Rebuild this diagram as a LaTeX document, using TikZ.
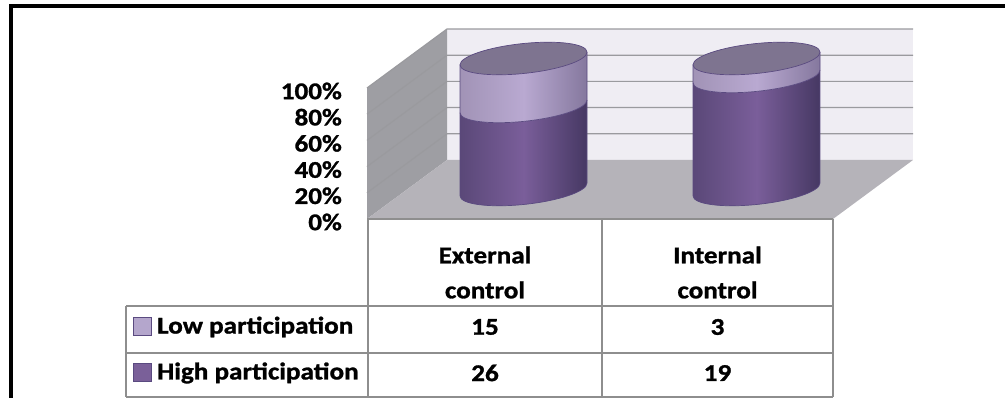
\documentclass[tikz,border=0pt]{standalone}
\usepackage{fontspec}
\setmainfont{Carlito}[BoldFeatures={FakeStretch=1.13, FakeBold=1.2}]
\usepackage{tikz}
\usetikzlibrary{positioning}

\definecolor{backwall}{HTML}{EFEDF3}
\definecolor{sidewall}{HTML}{9E9EA3}
\definecolor{floorgray}{HTML}{B5B3B9}
\definecolor{gridgray}{HTML}{9A9A9E}
\definecolor{tablegray}{HTML}{8E8E8E}
\definecolor{highleft}{HTML}{5A4878}
\definecolor{highmid}{HTML}{7A5E9A}
\definecolor{highright}{HTML}{463863}
\definecolor{lowleft}{HTML}{A193B6}
\definecolor{lowmid}{HTML}{B9A9D1}
\definecolor{lowright}{HTML}{85789E}
\definecolor{cyltop}{HTML}{7E7490}
\definecolor{cyledge}{HTML}{5A4A80}
\definecolor{keylow}{HTML}{B4A6CC}
\definecolor{keyhigh}{HTML}{7A6099}

\begin{document}
\begin{tikzpicture}[x=1pt,y=1pt]
                \tikzstyle{axislabel} = [font=\fontsize{24}{26}\selectfont\bfseries, inner sep=0pt, anchor=east]
                \tikzstyle{tabtext} = [font=\fontsize{24}{35}\selectfont\bfseries, inner sep=0pt, align=center]
                \tikzstyle{keybox} = [rectangle, minimum size=18pt, inner sep=0pt, draw=cyledge, line width=1pt]
                \tikzstyle{tableline} = [draw=tablegray, line width=1.5pt]
                \tikzstyle{gridline} = [draw=gridgray, line width=1.2pt]
                \tikzstyle{cylline} = [draw=cyledge, line width=0.7pt]
                \useasboundingbox (0,0) rectangle (1005,398);

                % outer frame
                \draw [line width=4pt] (10.5,-5) -- (10.5,391.5) -- (1012,391.5);

                % walls and floor
                \fill [backwall] (447,238) rectangle (913,369);
                \fill [sidewall] (367,179) -- (447,238) -- (447,369) -- (367,310) -- cycle;
                \fill [floorgray] (367,179) -- (447,238) -- (913,238) -- (833,179) -- cycle;
                \foreach \k in {1,...,5} {
                    \draw [gridline] (367,179+26.2*\k) -- (447,238+26.2*\k) -- (913,238+26.2*\k);
                }

                % cylinders: centre / split height
                \foreach \cx/\ys in {523.5/291.6, 756.5/321.6} {
                    \begin{scope}[shift={(\cx,0)}, yslant=0.1]
                        \shade [left color=highleft, right color=highright, middle color=highmid]
                            (-63.5,208.5) arc[start angle=180, end angle=360, x radius=63.5, y radius=15]
                            -- (63.5,\ys) arc[start angle=0, end angle=-180, x radius=63.5, y radius=15] -- cycle;
                        \shade [left color=lowleft, right color=lowright, middle color=lowmid]
                            (-63.5,\ys) arc[start angle=180, end angle=360, x radius=63.5, y radius=15]
                            -- (63.5,339.5) arc[start angle=0, end angle=-180, x radius=63.5, y radius=15] -- cycle;
                        \draw [cylline] (-63.5,\ys) arc[start angle=180, end angle=360, x radius=63.5, y radius=15];
                        \draw [cylline] (-63.5,208.5) arc[start angle=180, end angle=360, x radius=63.5, y radius=15]
                            -- (63.5,339.5) -- (-63.5,339.5) -- cycle;
                        \filldraw [fill=cyltop, cylline] (0,339.5) ellipse [x radius=63.5, y radius=15];
                    \end{scope}
                }

                % axis labels
                \node (tick0) [axislabel] at (342,176) {0\%};
                \node (tick20) [axislabel] at (342,202.2) {20\%};
                \node (tick40) [axislabel] at (342,228.4) {40\%};
                \node (tick60) [axislabel] at (342,254.6) {60\%};
                \node (tick80) [axislabel] at (342,280.8) {80\%};
                \node (tick100) [axislabel] at (342,307) {100\%};

                % data table
                \draw [tableline] (367,179) -- (833,179);
                \draw [tableline] (126,92) -- (833,92);
                \draw [tableline] (126,45) -- (833,45);
                \draw [tableline] (126,1) -- (833,1);
                \draw [tableline] (126,92) -- (126,1);
                \draw [tableline] (368,179) -- (368,1);
                \draw [tableline] (602,179) -- (602,1);
                \draw [tableline] (833,179) -- (833,1);

                \node (external) [tabtext] at (485,125.5) {External\\control};
                \node (internal) [tabtext] at (717.5,125.5) {Internal\\control};
                \node (lowkey) [keybox, fill=keylow] at (142.5,71) {};
                \node (highkey) [keybox, fill=keyhigh] at (142.5,25) {};
                \node (lowname) [tabtext, right=5pt of lowkey] {Low participation};
                \node (highname) [tabtext, right=5pt of highkey] {High participation};
                \node (extlow) [tabtext] at (485,71) {15};
                \node (inlow) [tabtext] at (717.5,71) {3};
                \node (exthigh) [tabtext] at (485,25) {26};
                \node (inhigh) [tabtext] at (717.5,25) {19};
            \end{tikzpicture}
\end{document}
